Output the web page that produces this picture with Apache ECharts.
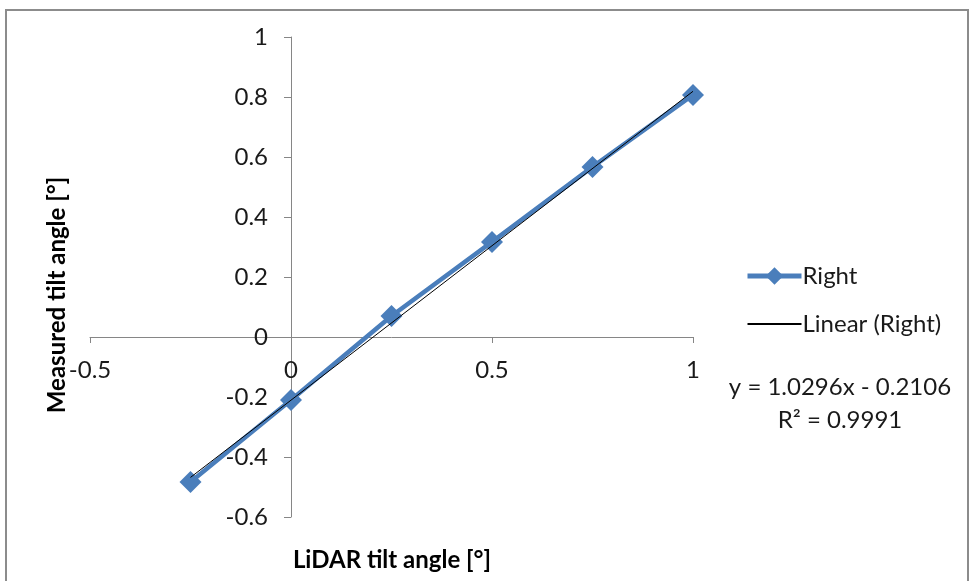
<!DOCTYPE html>
<html>
<head>
<meta charset="utf-8">
<script src="https://cdn.jsdelivr.net/npm/echarts@6/dist/echarts.min.js"></script>
<style>html,body{margin:0;padding:0;background:#fff}#c{width:971px;height:581px}</style>
</head>
<body>
<div id="c"></div>
<script>
var xValues = [-0.25, 0, 0.25, 0.5, 0.75, 1];
var yValues = [-0.483, -0.21, 0.07, 0.317, 0.567, 0.807];
var seriesName = 'Right';
var trendName = 'Linear (Right)';
var slope = 1.0296;
var intercept = -0.2106;
var r2 = 0.9991;
var xTitle = 'LiDAR tilt angle [°]';
var yTitle = 'Measured tilt angle [°]';

var FONT = 'Lato, "Open Sans", sans-serif';
var pts = xValues.map(function (x, i) { return [x, yValues[i]]; });
var xmin = Math.min.apply(null, xValues), xmax = Math.max.apply(null, xValues);
var trend = [[xmin, slope * xmin + intercept], [xmax, slope * xmax + intercept]];
var eq = 'y = ' + slope.toFixed(4) + 'x - ' + Math.abs(intercept).toFixed(4);
var r2txt = 'R² = ' + r2.toFixed(4);

// layout
var G = {left: 90, right: 278, top: 37, bottom: 64, w: 971, h: 581};
var gw = G.w - G.left - G.right, gh = G.h - G.top - G.bottom;
var XMIN = -0.5, XMAX = 1, YMIN = -0.6, YMAX = 1;
var yAxisOffset = -gw * (0 - XMIN) / (XMAX - XMIN);
var xAxisOffset = -gh * (0 - YMIN) / (YMAX - YMIN);

var chart = echarts.init(document.getElementById('c'), null, {renderer: 'canvas'});
var axisColor = '#868686';
var blue = '#4A7EBB';
chart.setOption({
  animation: false,
  textStyle: {fontFamily: FONT},
  grid: {left: G.left, right: G.right, top: G.top, bottom: G.bottom},
  xAxis: {
    type: 'value', min: XMIN, max: XMAX, interval: 0.5,
    position: 'bottom', offset: xAxisOffset,
    axisLine: {onZero: false, lineStyle: {color: axisColor, width: 1}},
    axisTick: {show: true, inside: false, length: 6, lineStyle: {color: axisColor}},
    splitLine: {show: false},
    axisLabel: {fontSize: 24, color: '#1a1a1a', margin: 21, fontFamily: FONT,
      formatter: function (v) { return String(+v.toFixed(2)); }}
  },
  yAxis: {
    type: 'value', min: YMIN, max: YMAX, interval: 0.2,
    position: 'left', offset: yAxisOffset,
    axisLine: {onZero: false, lineStyle: {color: axisColor, width: 1}},
    axisTick: {show: true, inside: false, length: 7, lineStyle: {color: axisColor}},
    splitLine: {show: false},
    axisLabel: {fontSize: 24, color: '#1a1a1a', margin: 23, fontFamily: FONT,
      formatter: function (v) { return String(+v.toFixed(2)); }}
  },
  legend: {
    orient: 'vertical', left: 740, top: 259,
    itemWidth: 54, itemHeight: 22, itemGap: 24,
    textStyle: {fontSize: 24, color: '#1a1a1a', fontFamily: FONT, padding: [0, 0, 0, -4]},
    data: [
      {name: seriesName, lineStyle: {width: 5}},
      {name: trendName, itemStyle: {opacity: 0}}
    ]
  },
  series: [
    {
      name: seriesName, type: 'line', data: pts,
      symbol: 'diamond', symbolSize: 22,
      lineStyle: {color: blue, width: 4.5},
      itemStyle: {color: blue},
      z: 2
    },
    {
      name: trendName, type: 'line', data: trend,
      symbol: 'none', showSymbol: false,
      lineStyle: {color: '#000', width: 1},
      itemStyle: {color: '#000'},
      z: 3
    }
  ],
  graphic: [
    {type: 'rect', shape: {x: 6, y: 10, width: 962, height: 600},
     style: {fill: 'none', stroke: '#8c8c8c', lineWidth: 2}, z: -1},
    {type: 'text', x: 392, y: 560,
     style: {text: xTitle, font: 'bold 24px ' + FONT, fill: '#000', textAlign: 'center', textVerticalAlign: 'middle'}},
    {type: 'text', x: 57, y: 295, rotation: Math.PI / 2,
     style: {text: yTitle, font: 'bold 24px ' + FONT, fill: '#000', textAlign: 'center', textVerticalAlign: 'middle'}},
    {type: 'text', x: 840, y: 387,
     style: {text: eq, font: '24px ' + FONT, fill: '#1a1a1a', textAlign: 'center', textVerticalAlign: 'middle'}},
    {type: 'text', x: 840, y: 420,
     style: {text: r2txt, font: '24px ' + FONT, fill: '#1a1a1a', textAlign: 'center', textVerticalAlign: 'middle'}}
  ]
});
</script>
</body>
</html>
